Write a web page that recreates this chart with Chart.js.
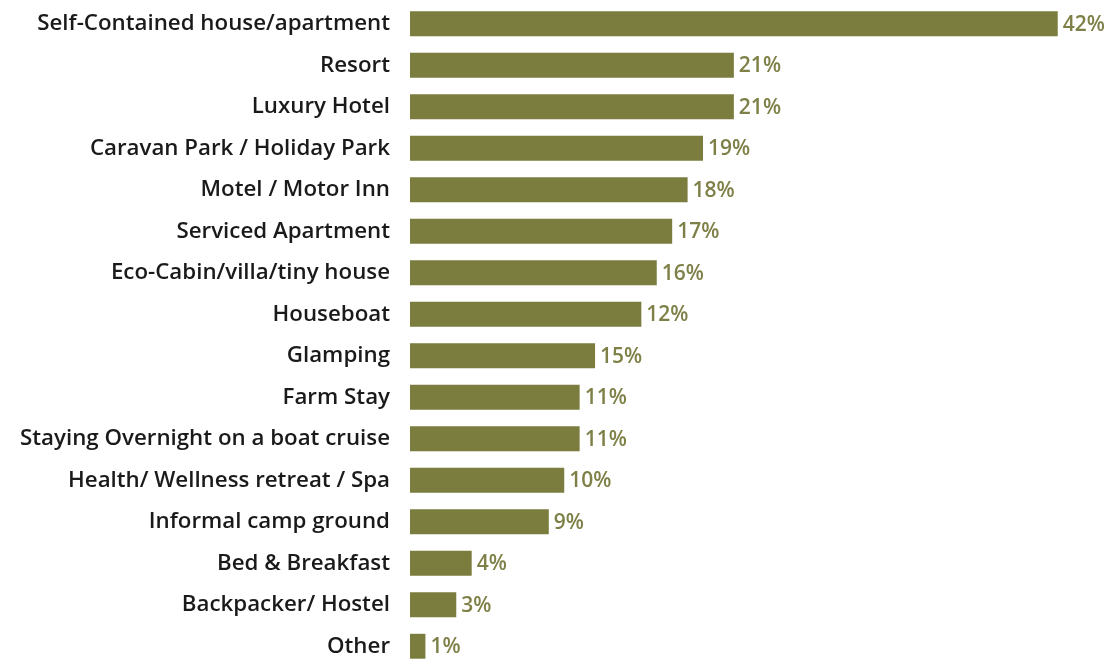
<!DOCTYPE html>
<html>
<head>
<meta charset="utf-8">
<script src="https://cdn.jsdelivr.net/npm/chart.js@4"></script>
<style>
  html, body { margin: 0; padding: 0; background: #fff; overflow: hidden; }
  #wrap { position: relative; width: 1108px; height: 670px; }
</style>
</head>
<body>
<div id="wrap"><canvas id="myChart"></canvas></div>
<script>
const categories = [
  'Self-Contained house/apartment', 'Resort', 'Luxury Hotel', 'Caravan Park / Holiday Park',
  'Motel / Motor Inn', 'Serviced Apartment', 'Eco-Cabin/villa/tiny house', 'Houseboat',
  'Glamping', 'Farm Stay', 'Staying Overnight on a boat cruise', 'Health/ Wellness retreat / Spa',
  'Informal camp ground', 'Bed & Breakfast', 'Backpacker/ Hostel', 'Other'
]
// bar lengths as drawn
const values = [42, 21, 21, 19, 18, 17, 16, 15, 12, 11, 11, 10, 9, 4, 3, 1]
// labels as printed next to the bars
const valueLabels = ['42%', '21%', '21%', '19%', '18%', '17%', '16%', '12%', '15%', '11%', '11%', '10%', '9%', '4%', '3%', '1%']

const barColor = '#7a7d3e'

const endLabels = {
  id: 'endLabels',
  afterDatasetsDraw(chart) {
    const ctx = chart.ctx
    const meta = chart.getDatasetMeta(0)
    ctx.save()
    ctx.font = '600 21px "Open Sans"'
    ctx.fillStyle = '#7e8047'
    ctx.textAlign = 'left'
    ctx.textBaseline = 'middle'
    meta.data.forEach((bar, i) => {
      ctx.fillText(valueLabels[i], bar.x + 5, bar.y + 1)
    })
    ctx.restore()
  }
}

const ctx = document.getElementById('myChart')

const chart = new Chart(ctx, {
  type: 'bar',
  data: {
    labels: categories,
    datasets: [{
      data: values,
      backgroundColor: barColor,
      borderWidth: 0,
      barPercentage: 0.6,
      categoryPercentage: 1
    }]
  },
  plugins: [endLabels],
  options: {
    indexAxis: 'y',
    responsive: true,
    maintainAspectRatio: false,
    animation: false,
    layout: { padding: { top: 3, bottom: 3, right: 4, left: 0 } },
    plugins: {
      legend: { display: false },
      tooltip: { enabled: false }
    },
    scales: {
      x: {
        min: 0,
        max: 45,
        display: false
      },
      y: {
        grid: { display: false },
        border: { display: false },
        afterFit(scale) {
          scale.width = 410
          scale.paddingTop = 0
          scale.paddingBottom = 0
        },
        ticks: {
          padding: 12,
          color: '#1a1a1a',
          font: { family: 'Open Sans', size: 22.3, weight: '600' }
        }
      }
    }
  }
})
</script>
</body>
</html>
